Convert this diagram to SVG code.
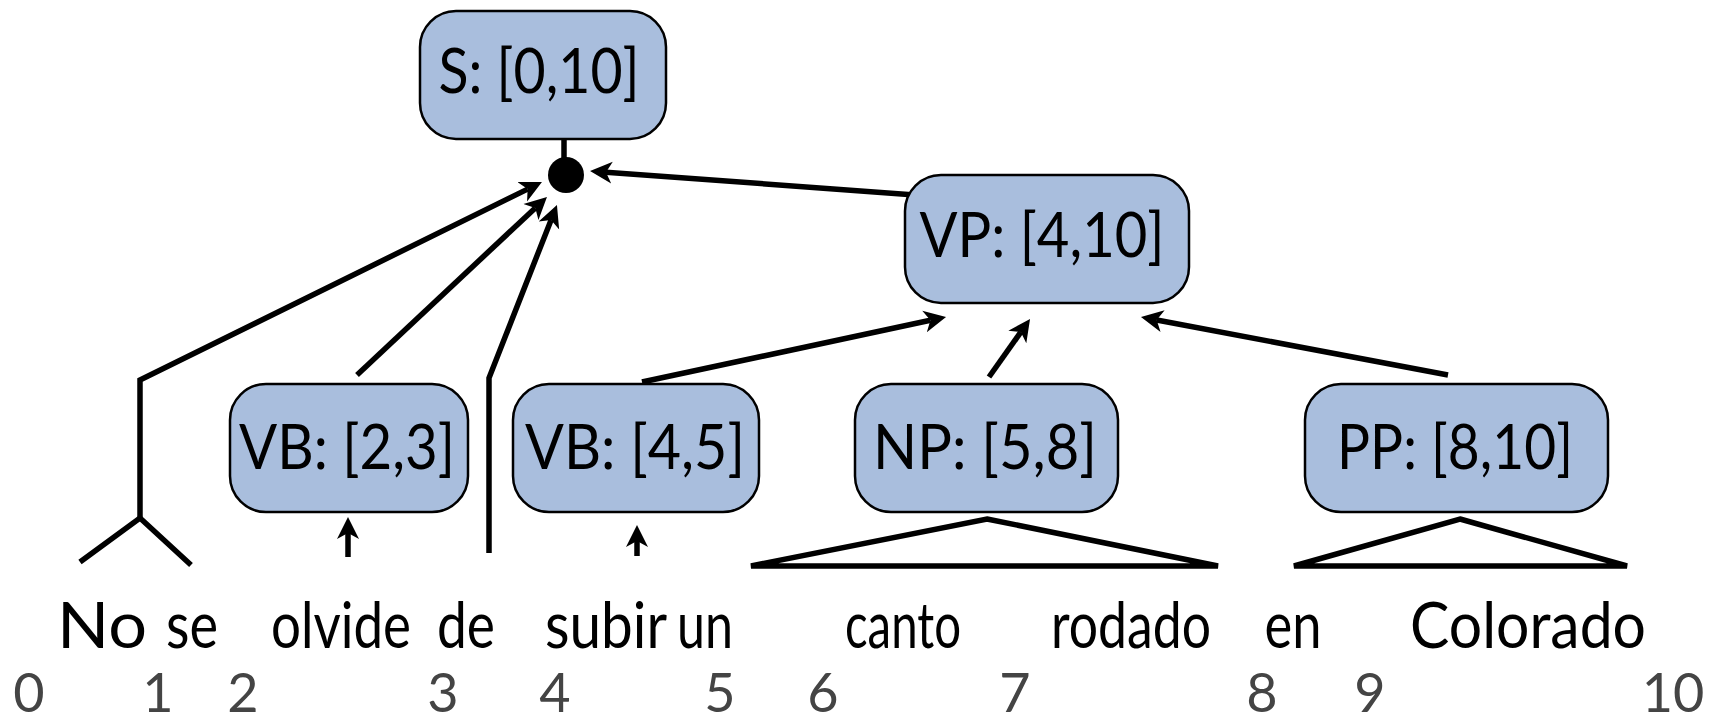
<svg xmlns="http://www.w3.org/2000/svg" width="1712" height="719" viewBox="0 0 1712 719">
  <style>
    .box { fill: #a9bedd; stroke: #000; stroke-width: 2.5; }
    .lbl { font-family: Lato, "Open Sans", "Liberation Sans", sans-serif; font-size: 62px; fill: #000; text-anchor: middle; }
    .word { font-family: Lato, "Open Sans", "Liberation Sans", sans-serif; font-size: 64px; fill: #000; text-anchor: middle; }
    .idx { font-family: Lato, "Open Sans", "Liberation Sans", sans-serif; font-size: 54px; fill: #444; text-anchor: middle; }
    .edge { fill: none; stroke: #000; stroke-width: 5.5; stroke-linejoin: miter; }
    .arrow { marker-end: url(#head); }
  </style>
  <defs>
    <marker id="head" markerUnits="userSpaceOnUse" markerWidth="30" markerHeight="26" viewBox="0 -13 30 26" refX="6" refY="0" orient="auto">
      <path d="M22 0 L0 -11 L6 0 L0 11 Z" fill="#000"/>
    </marker>
  </defs>

  <rect width="1712" height="719" fill="#fff"/>

  <!-- connectors -->
  <g id="connectors">
    <!-- S to the junction dot -->
    <line class="edge" x1="564" y1="135" x2="564" y2="170" stroke-width="8"/>
    <circle cx="566" cy="175" r="18" fill="#000"/>
    <!-- VP into the junction -->
    <line class="edge arrow" x1="915" y1="195" x2="606" y2="172.2"/>
    <!-- "No se": fork up to the junction -->
    <path class="edge" d="M80 562 L140 518 L191 565"/>
    <path class="edge arrow" d="M140 518 L140 380 L527.6 189.1"/>
    <!-- VB [2,3] into the junction -->
    <line class="edge arrow" x1="357" y1="375" x2="535.3" y2="207.9"/>
    <!-- "de" straight up into the junction -->
    <path class="edge arrow" d="M489 553 L489 378 L551.1 219.9"/>
    <!-- words up into VB boxes -->
    <line class="edge arrow" x1="348" y1="557" x2="348" y2="533"/>
    <line class="edge arrow" x1="637" y1="556" x2="637" y2="541"/>
    <!-- children into VP -->
    <line class="edge arrow" x1="642" y1="382" x2="930.4" y2="320.3"/>
    <line class="edge arrow" x1="989" y1="377" x2="1020.8" y2="332.1"/>
    <line class="edge arrow" x1="1448" y1="375" x2="1156.7" y2="320"/>
    <!-- collapsed subtrees -->
    <polygon class="edge" points="987,519 1218,566 751,566"/>
    <polygon class="edge" points="1460,519 1627,566 1294,566"/>
  </g>

  <g id="node-S">
    <rect class="box" x="420" y="11" width="246" height="128" rx="36"/>
    <text class="lbl" x="539" y="93" textLength="201" lengthAdjust="spacingAndGlyphs">S: [0,10]</text>
  </g>
  <g id="node-VP">
    <rect class="box" x="905" y="175" width="284" height="128" rx="36"/>
    <text class="lbl" x="1042" y="257" textLength="245" lengthAdjust="spacingAndGlyphs">VP: [4,10]</text>
  </g>
  <g id="node-VB23">
    <rect class="box" x="230" y="384" width="238" height="128" rx="36"/>
    <text class="lbl" x="347" y="469" textLength="216" lengthAdjust="spacingAndGlyphs">VB: [2,3]</text>
  </g>
  <g id="node-VB45">
    <rect class="box" x="513" y="384" width="246" height="128" rx="36"/>
    <text class="lbl" x="635" y="469" textLength="220" lengthAdjust="spacingAndGlyphs">VB: [4,5]</text>
  </g>
  <g id="node-NP">
    <rect class="box" x="855" y="384" width="263" height="128" rx="36"/>
    <text class="lbl" x="985" y="469" textLength="224" lengthAdjust="spacingAndGlyphs">NP: [5,8]</text>
  </g>
  <g id="node-PP">
    <rect class="box" x="1305" y="384" width="303" height="128" rx="36"/>
    <text class="lbl" x="1455" y="469" textLength="236" lengthAdjust="spacingAndGlyphs">PP: [8,10]</text>
  </g>

  <!-- sentence -->
  <g id="words">
    <text class="word" x="102" y="648" textLength="90" lengthAdjust="spacingAndGlyphs">No</text>
    <text class="word" x="192" y="648" textLength="52" lengthAdjust="spacingAndGlyphs">se</text>
    <text class="word" x="341" y="648" textLength="140" lengthAdjust="spacingAndGlyphs">olvide</text>
    <text class="word" x="466" y="648" textLength="58" lengthAdjust="spacingAndGlyphs">de</text>
    <text class="word" x="606" y="648" textLength="122" lengthAdjust="spacingAndGlyphs">subir</text>
    <text class="word" x="705" y="648" textLength="56" lengthAdjust="spacingAndGlyphs">un</text>
    <text class="word" x="903" y="648" textLength="116" lengthAdjust="spacingAndGlyphs">canto</text>
    <text class="word" x="1131" y="648" textLength="160" lengthAdjust="spacingAndGlyphs">rodado</text>
    <text class="word" x="1293" y="648" textLength="57" lengthAdjust="spacingAndGlyphs">en</text>
    <text class="word" x="1528" y="648" textLength="236" lengthAdjust="spacingAndGlyphs">Colorado</text>
  </g>

  <!-- span boundaries -->
  <g id="indices">
    <text class="idx" x="29" y="712">0</text>
    <text class="idx" x="158" y="712">1</text>
    <text class="idx" x="243" y="712">2</text>
    <text class="idx" x="443" y="712">3</text>
    <text class="idx" x="555" y="712">4</text>
    <text class="idx" x="720" y="712">5</text>
    <text class="idx" x="823" y="712">6</text>
    <text class="idx" x="1015" y="712">7</text>
    <text class="idx" x="1262" y="712">8</text>
    <text class="idx" x="1370" y="712">9</text>
    <text class="idx" x="1673" y="712">10</text>
  </g>
</svg>
